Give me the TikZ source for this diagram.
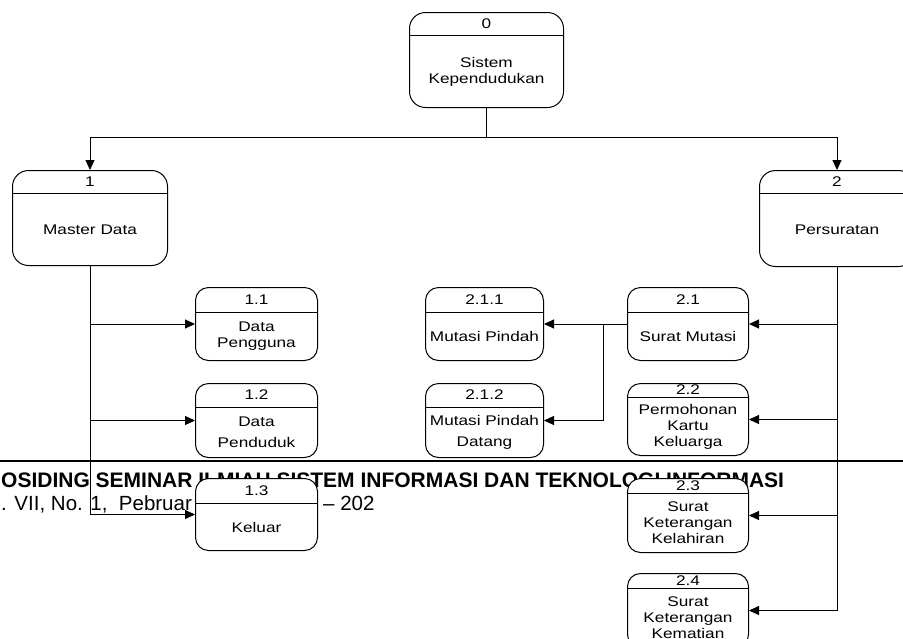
\documentclass[tikz,border=0pt]{standalone}
\usepackage{fontspec}
\setmainfont{Liberation Sans}
\newfontfamily\dfdfont[FakeStretch=1.23]{Liberation Sans}
\usetikzlibrary{arrows.meta,calc}
\tikzset{
  procbox/.style={draw, line width=1pt, fill=white, rounded corners=13pt, inner sep=0pt},
  bigproc/.style={rounded corners=16pt},
  ptext/.style={font=\dfdfont\fontsize{14}{16}\selectfont, align=center, inner sep=0pt},
  conn/.style={line width=1pt},
  arr/.style={conn, -{Triangle[length=10pt,width=9pt]}},
  hdrtext/.style={anchor=base west, inner sep=0pt},
}
\newcommand\dfdproc[9]{%
  \node[procbox,#1,minimum width=#5,minimum height=#6,anchor=north west] (#2) at (#3,#4) {};
  \draw[conn] ([yshift=-#7]#2.north west) -- ([yshift=-#7]#2.north east);
  \node[ptext] (#2-id) at ([yshift=-#7/2]#2.north) {#8};
  \node[ptext] (#2-body) at ($([yshift=-#7]#2.north)!0.5!(#2.south)$) {#9};
}
\begin{document}
\begin{tikzpicture}[x=1pt,y=-1pt]
\useasboundingbox (0,0) rectangle (903,638);
\clip (0,0) rectangle (903,638);
\fill[white] (0,0) rectangle (903,638);

% page header overlapping the figure
\node[hdrtext, font=\fontsize{21}{24}\selectfont\bfseries] (hdr1) at (1,487)
  {OSIDING SEMINAR ILMIAH SISTEM INFORMASI DAN TEKNOLOGI INFORMASI};
\node[hdrtext, font=\fontsize{20.5}{24}\selectfont] (hdr2a) at (1,510) {. VII, No. 1,\ \ Pebruar};
\node[hdrtext, font=\fontsize{20.5}{24}\selectfont] (hdr2b) at (323,510) {-- 202};
\draw[line width=2pt] (0,461) -- (903,461);

% processes
\dfdproc{bigproc}{n0}{409}{12}{154pt}{95pt}{23pt}{0}{Sistem\\Kependudukan}
\dfdproc{bigproc}{n1}{12}{170}{155pt}{95pt}{23pt}{1}{Master Data}
\dfdproc{bigproc}{n2}{759}{170}{155pt}{96pt}{23pt}{2}{Persuratan}
\dfdproc{}{n11}{195}{287}{122pt}{73pt}{25pt}{1.1}{Data\\Pengguna}
\dfdproc{}{n12}{195}{383}{122pt}{74pt}{24pt}{1.2}{Data\\[5pt]Penduduk}
\dfdproc{}{n13}{195}{478}{122pt}{72pt}{25pt}{1.3}{Keluar}
\dfdproc{}{n211}{425}{287}{118pt}{73pt}{25pt}{2.1.1}{Mutasi Pindah}
\dfdproc{}{n212}{425}{383}{118pt}{74pt}{24pt}{2.1.2}{Mutasi Pindah\\[5pt]Datang}
\dfdproc{}{n21}{627}{287}{121pt}{73pt}{25pt}{2.1}{Surat Mutasi}
\dfdproc{}{n22}{627}{383}{121pt}{72pt}{14pt}{2.2}{Permohonan\\Kartu\\Keluarga}
\dfdproc{}{n23}{627}{478}{121pt}{74pt}{15pt}{2.3}{Surat\\Keterangan\\Kelahiran}
\dfdproc{}{n24}{627}{573}{121pt}{74pt}{15pt}{2.4}{Surat\\Keterangan\\Kematian}

% connectors
\coordinate (j0) at ($(n0.south)+(0,29)$);
\draw[conn] (n0.south) -- (j0);
\draw[arr] (j0) -| (n1.north);
\draw[arr] (j0) -| (n2.north);

\draw[arr] (n1.south) |- (n11.west);
\draw[arr] (n1.south) |- (n12.west);
\draw[arr] (n1.south) |- (n13.west);

\draw[arr] (n2.south) |- (n21.east);
\draw[arr] (n2.south) |- (n22.east);
\draw[arr] (n2.south) |- (n23.east);
\draw[arr] (n2.south) |- (n24.east);

\coordinate (j21) at ($(n21.west)+(-24,0)$);
\draw[conn] (n21.west) -- (j21);
\draw[arr] (j21) -- (n211.east);
\draw[arr] (j21) |- (n212.east);
\end{tikzpicture}
\end{document}
